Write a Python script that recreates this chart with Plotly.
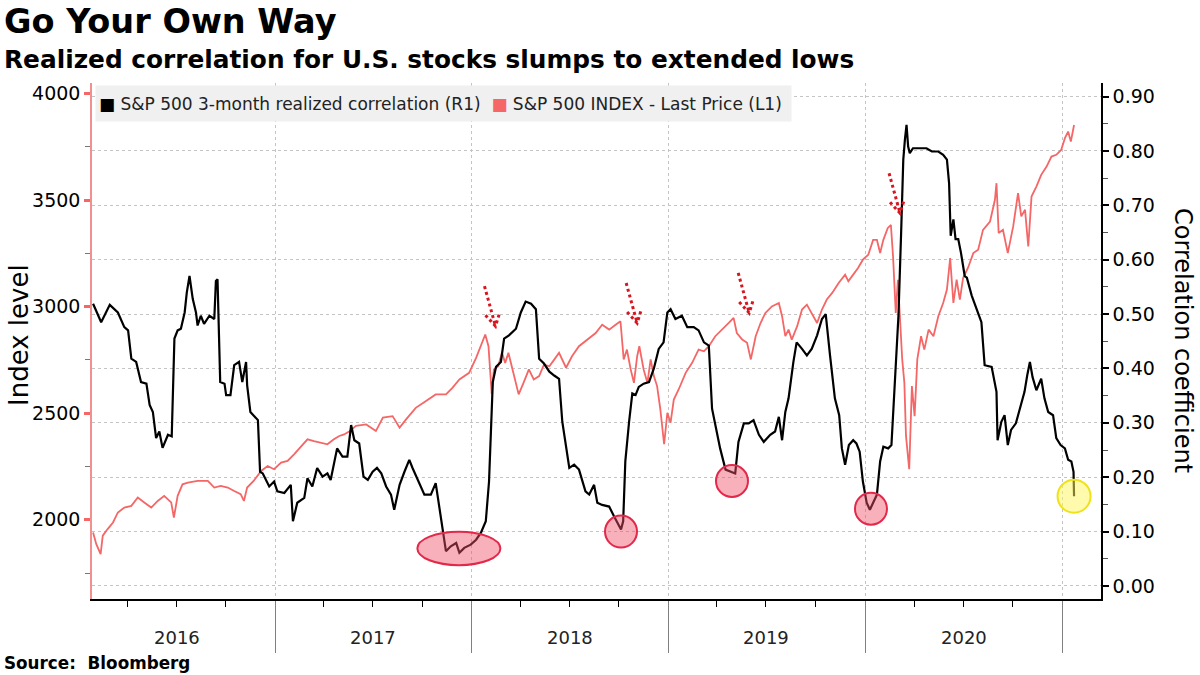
import plotly.graph_objects as go

# ---------------- data ----------------
spx_dates = [
    "2016-01-29", "2016-02-04", "2016-02-12", "2016-02-16", "2016-02-25", "2016-03-06", "2016-03-15",
    "2016-03-27", "2016-04-09", "2016-04-21", "2016-05-03", "2016-05-16", "2016-05-28", "2016-06-09",
    "2016-06-22", "2016-06-27", "2016-07-04", "2016-07-13", "2016-07-23", "2016-08-10", "2016-08-29",
    "2016-09-10", "2016-09-22", "2016-10-05", "2016-10-17", "2016-10-29", "2016-11-04", "2016-11-10",
    "2016-11-22", "2016-12-06", "2016-12-18", "2016-12-30", "2017-01-12", "2017-01-24", "2017-02-05",
    "2017-02-18", "2017-03-02", "2017-03-14", "2017-03-27", "2017-04-08", "2017-04-20", "2017-04-30",
    "2017-05-09", "2017-05-19", "2017-05-31", "2017-06-19", "2017-07-07", "2017-07-20", "2017-08-07",
    "2017-08-20", "2017-09-01", "2017-09-19", "2017-10-08", "2017-10-26", "2017-11-14", "2017-11-26",
    "2017-12-09", "2017-12-27", "2018-01-09", "2018-01-18", "2018-01-26", "2018-02-01", "2018-02-07",
    "2018-02-11", "2018-02-19", "2018-02-26", "2018-03-04", "2018-03-10", "2018-03-20", "2018-03-29",
    "2018-04-07", "2018-04-17", "2018-04-26", "2018-05-06", "2018-05-15", "2018-05-25", "2018-06-03",
    "2018-06-12", "2018-06-25", "2018-07-06", "2018-07-19", "2018-07-31", "2018-08-13", "2018-08-19",
    "2018-08-31", "2018-09-13", "2018-09-25", "2018-10-04", "2018-10-10", "2018-10-16", "2018-10-23",
    "2018-10-29", "2018-11-04", "2018-11-08", "2018-11-16", "2018-11-23", "2018-11-29", "2018-12-05",
    "2018-12-11", "2018-12-17", "2018-12-24", "2018-12-30", "2019-01-05", "2019-01-11", "2019-01-20",
    "2019-02-02", "2019-02-14", "2019-02-26", "2019-03-08", "2019-03-17", "2019-03-29", "2019-04-11",
    "2019-04-23", "2019-05-02", "2019-05-08", "2019-05-18", "2019-05-27", "2019-06-03", "2019-06-12",
    "2019-06-21", "2019-06-30", "2019-07-12", "2019-07-25", "2019-07-31", "2019-08-06", "2019-08-12",
    "2019-08-18", "2019-08-28", "2019-09-06", "2019-09-15", "2019-09-24", "2019-10-04", "2019-10-13",
    "2019-10-22", "2019-11-01", "2019-11-13", "2019-11-25", "2019-12-01", "2019-12-10", "2019-12-19",
    "2019-12-28", "2020-01-07", "2020-01-16", "2020-01-23", "2020-01-29", "2020-02-04", "2020-02-12",
    "2020-02-18", "2020-02-22", "2020-02-27", "2020-03-02", "2020-03-06", "2020-03-10", "2020-03-14",
    "2020-03-17", "2020-03-23", "2020-03-28", "2020-04-02", "2020-04-07", "2020-04-14", "2020-04-20",
    "2020-04-28", "2020-05-07", "2020-05-16", "2020-05-25", "2020-06-01", "2020-06-07", "2020-06-13",
    "2020-06-19", "2020-06-25", "2020-07-01", "2020-07-10", "2020-07-20", "2020-07-29", "2020-08-07",
    "2020-08-20", "2020-08-29", "2020-09-01", "2020-09-05", "2020-09-13", "2020-09-22", "2020-10-02",
    "2020-10-11", "2020-10-17", "2020-10-24", "2020-10-30", "2020-11-05", "2020-11-14", "2020-11-23",
    "2020-12-03", "2020-12-12", "2020-12-21", "2020-12-30", "2021-01-06", "2021-01-12", "2021-01-17",
    "2021-01-23",
]
spx_values = [
    1940, 1885, 1839, 1925, 1956, 1987, 2034,
    2057, 2065, 2104, 2081, 2057, 2088, 2112,
    2081, 2010, 2112, 2166, 2174, 2182, 2182,
    2151, 2159, 2151, 2135, 2120, 2088, 2151,
    2182, 2229, 2252, 2237, 2268, 2276, 2307,
    2346, 2377, 2369, 2361, 2354, 2377, 2393,
    2400, 2415, 2440, 2447, 2416, 2479, 2486,
    2432, 2471, 2525, 2557, 2588, 2588, 2619,
    2658, 2689, 2759, 2814, 2869, 2814, 2590,
    2705, 2720, 2783, 2736, 2783, 2674, 2588,
    2642, 2705, 2658, 2674, 2728, 2720, 2751,
    2783, 2713, 2767, 2814, 2837, 2861, 2876,
    2915, 2892, 2915, 2931, 2752, 2798, 2705,
    2642, 2767, 2814, 2705, 2642, 2752, 2674,
    2627, 2518, 2354, 2502, 2455, 2564, 2611,
    2689, 2736, 2798, 2790, 2814, 2861, 2892,
    2923, 2947, 2876, 2845, 2830, 2752, 2861,
    2923, 2970, 3001, 3017, 2955, 2861, 2892,
    2845, 2908, 2986, 3009, 2970, 2923, 2986,
    3033, 3064, 3111, 3150, 3119, 3150, 3181,
    3220, 3243, 3313, 3313, 3251, 3313, 3368,
    3383, 3235, 2970, 3126, 2955, 2752, 2642,
    2393, 2237, 2627, 2486, 2752, 2861, 2798,
    2892, 2861, 2955, 3017, 3080, 3228, 3017,
    3126, 3033, 3134, 3181, 3251, 3267, 3360,
    3399, 3500, 3579, 3345, 3360, 3251, 3376,
    3532, 3423, 3454, 3282, 3516, 3563, 3618,
    3657, 3704, 3712, 3735, 3790, 3821, 3774,
    3852,
]

corr_dates = [
    "2016-01-29", "2016-02-13", "2016-02-29", "2016-03-15", "2016-03-27", "2016-04-03", "2016-04-09",
    "2016-04-18", "2016-04-27", "2016-05-07", "2016-05-13", "2016-05-19", "2016-05-25", "2016-05-31",
    "2016-06-06", "2016-06-16", "2016-06-23", "2016-06-28", "2016-07-04", "2016-07-10", "2016-07-17",
    "2016-07-21", "2016-07-26", "2016-08-01", "2016-08-07", "2016-08-10", "2016-08-16", "2016-08-22",
    "2016-09-01", "2016-09-10", "2016-09-13", "2016-09-16", "2016-09-21", "2016-09-29", "2016-10-02",
    "2016-10-10", "2016-10-17", "2016-10-26", "2016-11-01", "2016-11-08", "2016-11-10", "2016-11-16",
    "2016-11-30", "2016-12-04", "2016-12-09", "2016-12-21", "2016-12-30", "2017-01-05", "2017-01-18",
    "2017-01-30", "2017-02-03", "2017-02-11", "2017-02-24", "2017-03-02", "2017-03-11", "2017-03-20",
    "2017-03-30", "2017-04-08", "2017-04-14", "2017-04-20", "2017-04-26", "2017-05-06", "2017-05-15",
    "2017-05-22", "2017-05-28", "2017-06-06", "2017-06-14", "2017-06-22", "2017-07-01", "2017-07-09",
    "2017-07-17", "2017-07-26", "2017-08-04", "2017-08-10", "2017-08-20", "2017-08-29", "2017-09-07",
    "2017-09-13", "2017-09-23", "2017-10-05", "2017-10-17", "2017-10-26", "2017-11-02", "2017-11-08",
    "2017-11-14", "2017-11-23", "2017-12-03", "2017-12-09", "2017-12-18", "2017-12-30", "2018-01-09",
    "2018-01-18", "2018-01-27", "2018-02-02", "2018-02-05", "2018-02-09", "2018-02-15", "2018-02-24",
    "2018-03-02", "2018-03-11", "2018-03-24", "2018-04-02", "2018-04-11", "2018-04-21", "2018-04-30",
    "2018-05-06", "2018-05-15", "2018-05-25", "2018-06-03", "2018-06-12", "2018-06-18", "2018-07-01",
    "2018-07-10", "2018-07-19", "2018-07-31", "2018-08-07", "2018-08-16", "2018-08-22", "2018-08-31",
    "2018-09-13", "2018-09-22", "2018-10-01", "2018-10-05", "2018-10-09", "2018-10-13", "2018-10-20",
    "2018-10-26", "2018-11-01", "2018-11-07", "2018-11-16", "2018-11-26", "2018-12-05", "2018-12-14",
    "2018-12-23", "2018-12-30", "2019-01-05", "2019-01-14", "2019-01-26", "2019-02-05", "2019-02-17",
    "2019-02-26", "2019-03-08", "2019-03-17", "2019-03-23", "2019-04-01", "2019-04-07", "2019-04-17",
    "2019-04-26", "2019-05-05", "2019-05-11", "2019-05-21", "2019-05-30", "2019-06-08", "2019-06-18",
    "2019-06-27", "2019-07-09", "2019-07-18", "2019-07-25", "2019-07-31", "2019-08-06", "2019-08-12",
    "2019-08-21", "2019-08-27", "2019-09-06", "2019-09-15", "2019-09-24", "2019-10-04", "2019-10-13",
    "2019-10-20", "2019-10-28", "2019-11-06", "2019-11-14", "2019-11-19", "2019-11-25", "2019-12-02",
    "2019-12-10", "2019-12-16", "2019-12-22", "2019-12-28", "2020-01-04", "2020-01-10", "2020-01-16",
    "2020-01-23", "2020-01-29", "2020-02-04", "2020-02-13", "2020-02-19", "2020-02-22", "2020-02-27",
    "2020-03-03", "2020-03-08", "2020-03-12", "2020-03-15", "2020-03-18", "2020-03-21", "2020-03-24",
    "2020-03-30", "2020-04-12", "2020-04-24", "2020-05-04", "2020-05-16", "2020-05-25", "2020-06-01",
    "2020-06-05", "2020-06-08", "2020-06-13", "2020-06-17", "2020-06-22", "2020-06-27", "2020-07-04",
    "2020-07-08", "2020-07-17", "2020-07-26", "2020-08-04", "2020-08-10", "2020-08-23", "2020-09-01",
    "2020-09-03", "2020-09-10", "2020-09-16", "2020-09-22", "2020-09-28", "2020-10-07", "2020-10-17",
    "2020-10-23", "2020-10-28", "2020-11-02", "2020-11-07", "2020-11-14", "2020-11-23", "2020-11-29",
    "2020-12-06", "2020-12-15", "2020-12-21", "2020-12-29", "2021-01-06", "2021-01-12", "2021-01-18",
    "2021-01-22", "2021-01-23",
]
corr_values = [
    0.519, 0.485, 0.517, 0.503, 0.476, 0.470, 0.418,
    0.412, 0.375, 0.372, 0.333, 0.320, 0.272, 0.284,
    0.254, 0.278, 0.275, 0.455, 0.470, 0.473, 0.503,
    0.540, 0.570, 0.528, 0.503, 0.479, 0.497, 0.482,
    0.497, 0.491, 0.561, 0.564, 0.375, 0.372, 0.351,
    0.351, 0.406, 0.412, 0.375, 0.412, 0.369, 0.320,
    0.305, 0.210, 0.207, 0.183, 0.192, 0.174, 0.171,
    0.186, 0.119, 0.153, 0.162, 0.198, 0.183, 0.217,
    0.201, 0.207, 0.195, 0.223, 0.253, 0.238, 0.238,
    0.296, 0.268, 0.262, 0.201, 0.195, 0.210, 0.217,
    0.207, 0.183, 0.168, 0.140, 0.186, 0.210, 0.232,
    0.217, 0.195, 0.168, 0.168, 0.189, 0.143, 0.104,
    0.064, 0.073, 0.079, 0.061, 0.070, 0.076, 0.085,
    0.098, 0.119, 0.192, 0.284, 0.375, 0.403, 0.412,
    0.455, 0.461, 0.473, 0.503, 0.523, 0.519, 0.509,
    0.418, 0.409, 0.394, 0.387, 0.381, 0.302, 0.217,
    0.223, 0.214, 0.174, 0.168, 0.186, 0.153, 0.149,
    0.146, 0.128, 0.113, 0.104, 0.119, 0.229, 0.302,
    0.354, 0.351, 0.366, 0.372, 0.375, 0.400, 0.436,
    0.448, 0.503, 0.509, 0.491, 0.497, 0.476, 0.476,
    0.470, 0.448, 0.442, 0.326, 0.284, 0.253, 0.214,
    0.210, 0.207, 0.265, 0.299, 0.299, 0.305, 0.278,
    0.265, 0.278, 0.284, 0.311, 0.268, 0.320, 0.345,
    0.412, 0.448, 0.436, 0.424, 0.436, 0.461, 0.491,
    0.500, 0.424, 0.345, 0.314, 0.253, 0.223, 0.259,
    0.268, 0.262, 0.247, 0.192, 0.153, 0.140, 0.153,
    0.168, 0.229, 0.256, 0.253, 0.259, 0.314, 0.400,
    0.497, 0.650, 0.784, 0.821, 0.848, 0.808, 0.796,
    0.805, 0.805, 0.805, 0.799, 0.799, 0.793, 0.784,
    0.741, 0.644, 0.674, 0.638, 0.638, 0.613, 0.570,
    0.567, 0.534, 0.509, 0.485, 0.406, 0.403, 0.357,
    0.268, 0.302, 0.314, 0.259, 0.287, 0.299, 0.333,
    0.357, 0.387, 0.412, 0.384, 0.360, 0.381, 0.345,
    0.320, 0.314, 0.272, 0.259, 0.253, 0.232, 0.229,
    0.210, 0.165,
]

year_labels = ["2016", "2017", "2018", "2019", "2020"]

# highlighted correlation lows (date, correlation)
low_dates = ["2017-12-08", "2018-10-05", "2019-04-29", "2020-01-12"]
low_values = [0.069, 0.100, 0.193, 0.142]
latest_date = "2021-01-23"
latest_value = 0.165

# dotted arrows pointing at S&P 500 levels (date, index level of arrow tip)
arrow_dates = ["2018-02-14", "2018-11-04", "2019-05-31", "2020-03-06"]
arrow_levels = [2908, 2923, 2970, 3438]

# ---------------- styling ----------------
FONT = "DejaVu Sans"
RED = "#f56666"
W, H = 1200, 675
PL, PR, PT, PB = 92, 1101, 83, 599


def px(x):
    return (x - PL) / (PR - PL)


def py(y):
    return (PB - y) / (PB - PT)


fig = go.Figure()
fig.add_trace(go.Scatter(x=spx_dates, y=spx_values, mode="lines", yaxis="y",
                         line=dict(color=RED, width=1.8), showlegend=False, hoverinfo="skip"))
fig.add_trace(go.Scatter(x=corr_dates, y=corr_values, mode="lines", yaxis="y2",
                         line=dict(color="black", width=2.2), showlegend=False, hoverinfo="skip"))

shapes = []
# ellipse for the first low, circles for the others
for i, (d, v) in enumerate(zip(low_dates, low_values)):
    rx, ry = (41.5, 16.7) if i == 0 else (16, 16)
    shapes.append(dict(type="circle", xref="x", yref="y2", xsizemode="pixel", ysizemode="pixel",
                       xanchor=d, yanchor=v, x0=-rx, x1=rx, y0=-ry, y1=ry,
                       fillcolor="rgba(240,80,105,0.45)", line=dict(color="#e3284a", width=2),
                       layer="above"))
shapes.append(dict(type="circle", xref="x", yref="y2", xsizemode="pixel", ysizemode="pixel",
                   xanchor=latest_date, yanchor=latest_value, x0=-16.5, x1=16.5, y0=-16.5, y1=16.5,
                   fillcolor="rgba(255,245,90,0.5)", line=dict(color="#eee21a", width=2),
                   layer="above"))
for d, v in zip(arrow_dates, arrow_levels):
    shapes.append(dict(type="path", xref="x", yref="y", xsizemode="pixel", ysizemode="pixel",
                       xanchor=d, yanchor=v,
                       path="M -11,40 L 0,0 M -10,11 L 0,0 L 4,13",
                       line=dict(color="#d8151f", width=3, dash="dot"), layer="above"))

annotations = [
    dict(text="<b>Go Your Own Way</b>", xref="paper", yref="paper", x=px(2), y=py(21),
         xanchor="left", yanchor="middle", showarrow=False,
         font=dict(family=FONT, size=33.5, color="black")),
    dict(text="<b>Realized correlation for U.S. stocks slumps to extended lows</b>", xref="paper",
         yref="paper", x=px(2), y=py(60), xanchor="left", yanchor="middle", showarrow=False,
         font=dict(family=FONT, size=24.8, color="black")),
    dict(text="<b>Source:  Bloomberg</b>", xref="paper", yref="paper", x=px(2), y=py(663),
         xanchor="left", yanchor="middle", showarrow=False,
         font=dict(family=FONT, size=16.8, color="black")),
    dict(text="Index level", xref="paper", yref="paper", x=px(19), y=py(335), textangle=-90,
         xanchor="center", yanchor="middle", showarrow=False,
         font=dict(family=FONT, size=26, color="black")),
    dict(text="Correlation coefficient", xref="paper", yref="paper", x=px(1183), y=py(340),
         textangle=90, xanchor="center", yanchor="middle", showarrow=False,
         font=dict(family=FONT, size=24, color="black")),
    dict(text=("<span style='color:black'>■</span> S&amp;P 500 3-month realized correlation (R1)"
               "  <span style='color:" + RED + "'>■</span> S&amp;P 500 INDEX - Last Price (L1)"),
         xref="paper", yref="paper", x=px(95), y=py(85), xanchor="left", yanchor="top",
         width=689, height=29, borderpad=3, align="left", valign="middle", bgcolor="#f0f0f0",
         showarrow=False, font=dict(family=FONT, size=17, color="#222")),
]
for yl in year_labels:
    annotations.append(dict(text=yl, xref="x", yref="paper", x=yl + "-07-02", y=py(637),
                            xanchor="center", yanchor="middle", showarrow=False,
                            font=dict(family=FONT, size=18, color="#222")))

fig.update_layout(
    width=W, height=H, autosize=False,
    margin=dict(l=PL, r=W - PR, t=PT, b=H - PB, pad=0),
    paper_bgcolor="white", plot_bgcolor="white",
    font=dict(family=FONT, color="black"),
    showlegend=False,
    xaxis=dict(
        type="date", range=["2016-01-27", "2021-03-14"],
        showline=True, linecolor="black", linewidth=1.5,
        ticks="outside", ticklen=52, tickwidth=1, tickcolor="#808080",
        tick0="2016-01-01", dtick="M12", showticklabels=False,
        showgrid=True, gridcolor="#c4c4c4", griddash="3px,3px", gridwidth=1,
        minor=dict(ticks="outside", ticklen=6, tickcolor="black", tickwidth=1,
                   tick0="2016-01-01", dtick="M3", showgrid=False),
        zeroline=False,
    ),
    yaxis=dict(
        range=[1628, 4049], tick0=0, dtick=500, showgrid=False, zeroline=False,
        showline=True, linecolor="#f29090", linewidth=1.5,
        ticks="outside", ticklen=6, tickwidth=2.5, tickcolor=RED,
        minor=dict(ticks="outside", ticklen=5, tickcolor="#777", tickwidth=1, dtick=250),
        tickfont=dict(family=FONT, size=19, color="black"),
    ),
    yaxis2=dict(
        overlaying="y", side="right", range=[-0.024, 0.925], tick0=0, dtick=0.1,
        tickformat=".2f", showgrid=True, gridcolor="#c4c4c4", griddash="3px,3px", gridwidth=1,
        zeroline=False, showline=True, linecolor="black", linewidth=1.5,
        ticks="outside", ticklen=6, tickwidth=1.5, tickcolor="black",
        minor=dict(ticks="outside", ticklen=5, tickcolor="#555", tickwidth=1, dtick=0.05),
        tickfont=dict(family=FONT, size=19, color="black"),
    ),
    shapes=shapes,
    annotations=annotations,
)

fig.write_html("out.html")
